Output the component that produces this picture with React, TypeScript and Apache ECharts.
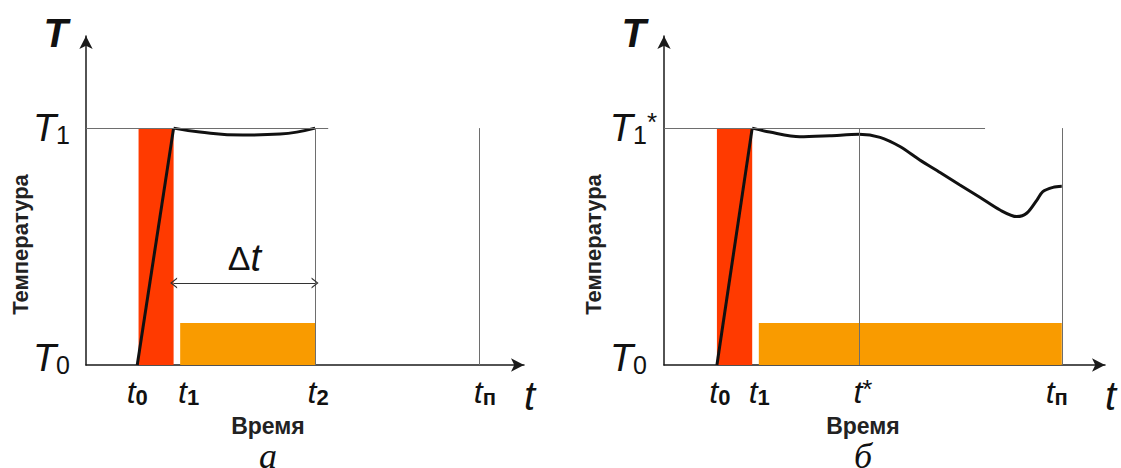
import React, { useEffect, useRef } from "react";
import * as echarts from "echarts";

// ---------------- data ----------------
// shared temperature scale (relative units, T0 = 0)
const TEMP_TICKS = [0, 72];
const HOLD_LEVEL = 12.8; // height of the orange hold band
const DT_LEVEL = 24.9; // level of the Δt dimension arrow

// panel а
const A_TIME_TICKS = [11.7, 20, 52.3, 89.7];
const A_TIME_LABELS = ["t0", "t1", "t2", "tп"];
const A_TEMP_LABELS = ["T0", "T1"];
const A_RAMP_X = [11.7, 20];
const A_RAMP_Y = [0, 72];
const A_CURVE_X = [20, 26, 35.8, 44.3, 52.3];
const A_CURVE_Y = [72, 70.8, 69.9, 70.2, 72];
const A_HEAT_X = [12, 20];
const A_HOLD_X = [21.5, 52.3];
const A_LEVEL_END = 55.3;
const A_GUIDES_X = [52.3, 89.7];
const A_DT_X = [20, 52.3];

// panel б
const B_TIME_TICKS = [12, 20, 44.2, 90.2];
const B_TIME_LABELS = ["t0", "t1", "t*", "tп"];
const B_TEMP_LABELS = ["T0", "T1*"];
const B_RAMP_X = [12, 20];
const B_RAMP_Y = [0, 72];
const B_CURVE_X = [20, 24, 30.8, 37.6, 44.2, 49, 53.5, 58, 62.6, 67.1, 71.7, 76.2, 80, 82.3, 84.6, 85.9, 88.2, 90.2];
const B_CURVE_Y = [72, 70.8, 69.4, 69.7, 70.1, 69.2, 66.4, 62.3, 58.5, 54.7, 50.9, 47.1, 45.1, 46.2, 50.2, 52.7, 54.0, 54.3];
const B_HEAT_X = [12, 20];
const B_HOLD_X = [21.5, 90.2];
const B_LEVEL_END = 72.8;
const B_GUIDES_X = [44.2, 90.2];

const Y_NAME = "T";
const X_NAME = "t";
const TEMP_TITLE = "Температура";
const TIME_TITLE = "Время";
const CAPTIONS = ["а", "б"];

// ---------------- styles ----------------
const SANS = '"Liberation Sans", Arial, sans-serif';
const NARROW = '"Liberation Sans Narrow", "Liberation Sans", Arial, sans-serif';
const SERIF = '"Liberation Serif", "Times New Roman", serif';
const INK = "#111111";
const AXIS = "#1a1a1a";
const GUIDE = "#6e6e6e";
const RED = "#ff3a00";
const ORANGE = "#f99b00";
const CHEVRON = "path://M50,0 L100,80 L86,80 L50,22 L14,80 L0,80 Z";

type Panel = {
  timeTicks: number[];
  timeLabels: string[];
  tempLabels: string[];
  rampX: number[];
  rampY: number[];
  curveX: number[];
  curveY: number[];
  heatX: number[];
  holdX: number[];
  levelEnd: number;
  guidesX: number[];
  dtX: number[] | null;
  caption: string;
  smooth: number;
};

const PANELS: Panel[] = [
  {
    timeTicks: A_TIME_TICKS, timeLabels: A_TIME_LABELS, tempLabels: A_TEMP_LABELS,
    rampX: A_RAMP_X, rampY: A_RAMP_Y, curveX: A_CURVE_X, curveY: A_CURVE_Y,
    heatX: A_HEAT_X, holdX: A_HOLD_X, levelEnd: A_LEVEL_END, guidesX: A_GUIDES_X,
    dtX: A_DT_X, caption: CAPTIONS[0], smooth: 0.45,
  },
  {
    timeTicks: B_TIME_TICKS, timeLabels: B_TIME_LABELS, tempLabels: B_TEMP_LABELS,
    rampX: B_RAMP_X, rampY: B_RAMP_Y, curveX: B_CURVE_X, curveY: B_CURVE_Y,
    heatX: B_HEAT_X, holdX: B_HOLD_X, levelEnd: B_LEVEL_END, guidesX: B_GUIDES_X,
    dtX: null, caption: CAPTIONS[1], smooth: 0.3,
  },
];

const LAYOUT = [
  { left: 86, width: 438, tickNudge: [0, 30, 6, 12], yMargin: 16, t0Pad: 0, tempShift: 88, tempGap: 55, timeShift: 74 },
  { left: 664, width: 441, tickNudge: [6, 14, 8, -10], yMargin: 7, t0Pad: 10, tempShift: 88, tempGap: 60, timeShift: 43 },
];

const zip = (xs: number[], ys: number[]) => xs.map((x, i) => [x, ys[i]]);

function timeRich(nudges: number[]) {
  const rich: any = {};
  nudges.forEach((n, i) => {
    rich["t" + i] = { fontFamily: NARROW, fontStyle: "italic", fontSize: 32, color: INK, padding: [0, 0, 0, Math.max(n, 0)] };
    rich["d" + i] = { fontFamily: NARROW, fontWeight: "bold", fontSize: 22, color: INK, verticalAlign: "bottom", padding: [0, Math.max(-n, 0), 0, 0] };
    rich["s" + i] = { fontFamily: SANS, fontSize: 26, color: INK, verticalAlign: "top", padding: [0, Math.max(-n, 0), 0, 0] };
  });
  return rich;
}

function tempRich(t0Pad: number) {
  return {
    T: { fontFamily: SANS, fontStyle: "italic", fontSize: 38, color: INK },
    n: { fontFamily: SANS, fontSize: 25, color: INK, verticalAlign: "bottom" },
    st: { fontFamily: SANS, fontSize: 26, color: INK, verticalAlign: "top" },
    T0: { fontFamily: SANS, fontStyle: "italic", fontSize: 38, color: INK, padding: [0, 0, 14, 0] },
    n0: { fontFamily: SANS, fontSize: 25, color: INK, verticalAlign: "bottom", padding: [0, t0Pad, 14, 0] },
  };
}

function buildOption() {
  const grid: any[] = [];
  const xAxis: any[] = [];
  const yAxis: any[] = [];
  const series: any[] = [];
  const T1 = TEMP_TICKS[1];

  PANELS.forEach((p, gi) => {
    const L = LAYOUT[gi];
    grid.push({ left: L.left, top: 36, width: L.width, height: 329, containLabel: false, outerBoundsMode: "none" });

    const hidden = {
      axisLine: { show: false },
      axisTick: { show: false },
      axisLabel: { show: false },
      splitLine: { show: false },
    };

    // main time axis
    xAxis.push({
      type: "value", gridIndex: gi, position: "bottom", min: 0, max: 100,
      name: X_NAME, nameLocation: "end", nameGap: 0, nameMoveOverlap: false,
      nameTextStyle: { fontFamily: NARROW, fontStyle: "italic", fontSize: 40, color: INK, verticalAlign: "top", lineHeight: 62 },
      axisLine: { show: true, onZero: false, symbol: ["none", "arrow"], symbolSize: [10, 13], lineStyle: { color: AXIS, width: 1.5 } },
      axisTick: { show: false },
      splitLine: { show: false },
      axisLabel: {
        customValues: p.timeTicks,
        margin: 11,
        formatter: (v: number) => {
          const i = p.timeTicks.findIndex((t) => Math.abs(t - v) < 1e-6);
          if (i < 0) return "";
          const sub = p.timeLabels[i].slice(1);
          return sub === "*" ? `{t${i}|t}{s${i}|*}` : `{t${i}|t}{d${i}|${sub}}`;
        },
        rich: timeRich(L.tickNudge),
      },
    });
    // secondary time axis carrying the "Время" title and caption
    xAxis.push({
      type: "value", gridIndex: gi, position: "bottom", min: 0, max: 100, ...hidden,
      name: `{v|${TIME_TITLE}}\n{c|${p.caption}}`, nameLocation: "middle", nameGap: 48, nameMoveOverlap: false,
      nameTextStyle: {
        padding: [0, L.timeShift, 0, 0],
        rich: {
          v: { fontFamily: SANS, fontWeight: "bold", fontSize: 23, color: "#222", lineHeight: 26 },
          c: { fontFamily: SERIF, fontStyle: "italic", fontSize: 36, color: INK, lineHeight: 34 },
        },
      },
    });

    // main temperature axis
    yAxis.push({
      type: "value", gridIndex: gi, position: "left", min: 0, max: 100,
      name: Y_NAME, nameLocation: "end", nameGap: 3, nameMoveOverlap: false,
      nameTextStyle: { fontFamily: SANS, fontStyle: "italic", fontWeight: "bold", fontSize: 40, color: INK, align: "right", verticalAlign: "middle", padding: [0, 18, 0, 0] },
      axisLine: { show: true, onZero: false, symbol: ["none", "arrow"], symbolSize: [10, 13], lineStyle: { color: AXIS, width: 1.5 } },
      axisTick: { show: false },
      splitLine: { show: false },
      axisLabel: {
        customValues: TEMP_TICKS,
        margin: L.yMargin,
        formatter: (v: number) => {
          const i = TEMP_TICKS.findIndex((t) => Math.abs(t - v) < 1e-6);
          if (i < 0) return "";
          const lab = p.tempLabels[i];
          if (i === 0) return `{T0|${lab[0]}}{n0|${lab.slice(1)}}`;
          const rest = lab.slice(2);
          return `{T|${lab[0]}}{n|${lab[1]}}` + (rest ? `{st|${rest}}` : "");
        },
        rich: tempRich(L.t0Pad),
      },
    });
    // secondary temperature axis carrying the "Температура" title
    yAxis.push({
      type: "value", gridIndex: gi, position: "left", min: 0, max: 100, ...hidden,
      name: TEMP_TITLE, nameLocation: "middle", nameRotate: 90, nameGap: L.tempGap, nameMoveOverlap: false,
      nameTextStyle: { fontFamily: SANS, fontWeight: "bold", fontSize: 22, color: "#222", padding: [0, L.tempShift, 0, 0] },
    });

    const xi = gi * 2;
    const yi = gi * 2;

    // heating and holding zones
    series.push({
      type: "line", xAxisIndex: xi, yAxisIndex: yi, data: [], z: 1, silent: true,
      markArea: {
        silent: true,
        data: [
          [
            { coord: [p.heatX[0], TEMP_TICKS[0]], itemStyle: { color: RED, opacity: 1, borderWidth: 0 } },
            { coord: [p.heatX[1], T1] },
          ],
          [
            { coord: [p.holdX[0], TEMP_TICKS[0]], itemStyle: { color: ORANGE, opacity: 1, borderWidth: 0 } },
            { coord: [p.holdX[1], HOLD_LEVEL] },
          ],
        ],
      },
    });

    // guide lines
    const guideData: any[] = [
      [{ coord: [0, T1] }, { coord: [p.levelEnd, T1] }],
      ...p.guidesX.map((gx) => [{ coord: [gx, TEMP_TICKS[0]] }, { coord: [gx, T1] }]),
    ];
    if (p.dtX) {
      guideData.push([
        {
          coord: [p.dtX[0], DT_LEVEL], symbol: CHEVRON, symbolSize: [11, 7],
          lineStyle: { color: "#333", width: 1.2 },
          label: {
            show: true, position: "middle", distance: 6,
            formatter: "{d|Δ}{t|t}",
            rich: {
              d: { fontFamily: SANS, fontSize: 34, color: INK },
              t: { fontFamily: NARROW, fontStyle: "italic", fontSize: 38, color: INK },
            },
          },
        },
        { coord: [p.dtX[1], DT_LEVEL], symbol: CHEVRON, symbolSize: [11, 7] },
      ]);
    }
    series.push({
      type: "line", xAxisIndex: xi, yAxisIndex: yi, data: [], z: 2, silent: true,
      markLine: {
        silent: true, symbol: "none",
        lineStyle: { color: GUIDE, width: 1, type: "solid" },
        label: { show: false },
        emphasis: { disabled: true },
        data: guideData,
      },
    });

    // heating ramp
    series.push({
      type: "line", xAxisIndex: xi, yAxisIndex: yi, z: 3, silent: true,
      data: zip(p.rampX, p.rampY), showSymbol: false, smooth: false,
      lineStyle: { color: INK, width: 3 },
    });
    // temperature curve
    series.push({
      type: "line", xAxisIndex: xi, yAxisIndex: yi, z: 3, silent: true,
      data: zip(p.curveX, p.curveY), showSymbol: false, smooth: p.smooth,
      lineStyle: { color: INK, width: 3 },
    });
  });

  return {
    animation: false,
    backgroundColor: "#ffffff",
    grid, xAxis, yAxis, series,
  };
}

export default function App() {
  const ref = useRef<HTMLDivElement | null>(null);
  useEffect(() => {
    if (!ref.current) return;
    const chart = echarts.init(ref.current, null, { renderer: "svg" });
    chart.setOption(buildOption() as any);
    return () => chart.dispose();
  }, []);
  return (
    <div
      ref={ref}
      style={{ position: "absolute", left: 0, top: 0, width: 1121, height: 468, background: "#fff" }}
    />
  );
}
